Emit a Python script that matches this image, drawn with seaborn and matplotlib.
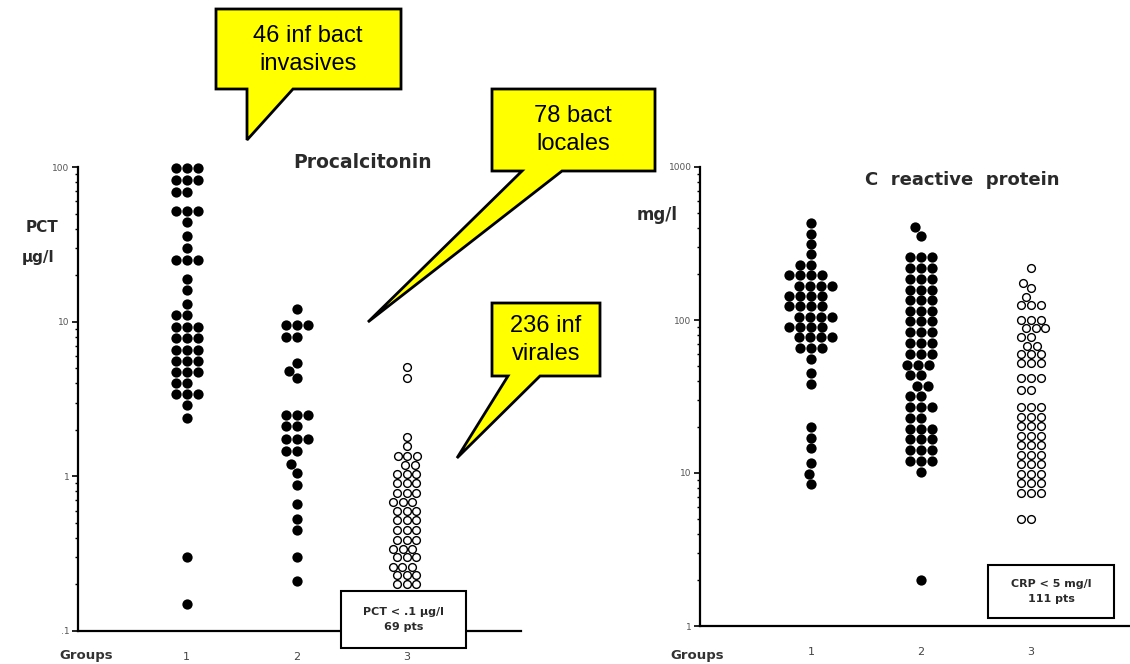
import warnings
warnings.filterwarnings('ignore')
import numpy as np
import pandas as pd
import matplotlib
matplotlib.use('Agg')
import matplotlib.pyplot as plt
from matplotlib.patches import Polygon, Rectangle
from matplotlib.ticker import FixedLocator, FixedFormatter, LogLocator, NullFormatter
import seaborn as sns

# ---------------- data ----------------
groups = ['1', '2', '3']

pct_tick_values = [0.1, 1, 10, 100]
pct_tick_labels = ['.1', '1', '10', '100']
crp_tick_values = [1, 10, 100, 1000]
crp_tick_labels = ['1', '10', '100', '1000']

pct_group1 = [98, 98, 98, 82, 82, 82, 69, 69, 52, 52, 52, 44, 36, 30, 25, 25,
              25, 19, 16, 13, 11, 11, 9.2, 9.2, 9.2, 7.8, 7.8, 7.8, 6.6, 6.6,
              6.6, 5.6, 5.6, 5.6, 4.7, 4.7, 4.7, 4.0, 4.0, 3.4, 3.4, 3.4, 2.9,
              2.4, 0.30, 0.15]
pct_group2 = [12, 9.5, 9.5, 9.5, 8.0, 8.0, 5.4, 4.8, 4.3, 2.5, 2.5, 2.5, 2.1,
              2.1, 1.75, 1.75, 1.75, 1.45, 1.45, 1.2, 1.05, 0.88, 0.66, 0.53,
              0.45, 0.30, 0.21]
pct_group3 = [5.1, 4.3, 1.8, 1.57, 1.36, 1.36, 1.36, 1.19, 1.19, 1.04, 1.04,
              1.04, 0.9, 0.9, 0.9, 0.78, 0.78, 0.78, 0.68, 0.68, 0.68, 0.6, 0.6,
              0.6, 0.52, 0.52, 0.52, 0.45, 0.45, 0.45, 0.39, 0.39, 0.39, 0.34,
              0.34, 0.34, 0.3, 0.3, 0.3, 0.26, 0.26, 0.26, 0.23, 0.23, 0.23,
              0.2, 0.2, 0.2, 0.17, 0.17, 0.17]

crp_group1 = [430, 367, 314, 269, 230, 230, 196, 196, 196, 196, 168, 168, 168,
              168, 144, 144, 144, 144, 123, 123, 123, 123, 105, 105, 105, 105,
              90, 90, 90, 90, 77, 77, 77, 77, 66, 66, 66, 56, 45, 38, 20, 17,
              14.5, 11.6, 9.9, 8.5]
crp_group2 = [405, 356, 257, 257, 257, 219, 219, 219, 186, 186, 186, 158, 158,
              158, 135, 135, 135, 115, 115, 115, 98, 98, 98, 83, 83, 83, 71, 71,
              71, 60, 60, 60, 51, 51, 51, 44, 44, 37, 37, 32, 32, 27, 27, 27, 23,
              23, 19.5, 19.5, 19.5, 16.6, 16.6, 16.6, 14.1, 14.1, 14.1, 12, 12,
              12, 10.2, 2.0]
crp_group3 = [220, 174, 163, 141, 125, 125, 125, 100, 100, 100, 88, 88, 88, 78,
              78, 68, 68, 60, 60, 60, 52, 52, 52, 42, 42, 42, 35, 35, 27, 27, 27,
              23.3, 23.3, 23.3, 20.2, 20.2, 20.2, 17.5, 17.5, 17.5, 15.2, 15.2,
              15.2, 13.2, 13.2, 13.2, 11.4, 11.4, 11.4, 9.9, 9.9, 9.9, 8.6, 8.6,
              8.6, 7.4, 7.4, 7.4, 5.0, 5.0]

callout_texts = ['46 inf bact\ninvasives', '78 bact\nlocales', '236 inf\nvirales']
pct_box_text = 'PCT < .1 µg/l\n69 pts'
crp_box_text = 'CRP < 5 mg/l\n111 pts'

# ---------------- figure ----------------
sns.set_theme(style='white')
plt.rcParams['font.family'] = ['DejaVu Sans']

W, H = 1130, 664
fig = plt.figure(figsize=(W / 100, H / 100), dpi=100)
fig.patch.set_facecolor('white')


def fx(px):
    return px / W


def fy(py):
    return 1 - py / H


ax1 = fig.add_axes([fx(78), fy(631), fx(521) - fx(78), fy(167) - fy(631)])
ax2 = fig.add_axes([fx(700), fy(626), 1 - fx(700), fy(167) - fy(626)])

TXT = '#2a2a2a'


def make_df(lists):
    g, v = [], []
    for name, vals in zip(groups, lists):
        g += [name] * len(vals)
        v += list(vals)
    return pd.DataFrame({'group': g, 'value': v})


def panel(ax, filled_lists, hollow_list, ylim, ticks, ticklabels, xlim):
    ax.set_yscale('log')
    df_f = make_df(filled_lists + [[]])
    df_h = make_df([[], [], hollow_list])
    sns.swarmplot(data=df_f, x='group', y='value', order=groups, color='black',
                  size=7.4, linewidth=0, ax=ax, clip_on=False, zorder=3)
    sns.swarmplot(data=df_h, x='group', y='value', order=groups, color='white',
                  edgecolor='black', linewidth=1.0, size=5.6, ax=ax,
                  clip_on=False, zorder=3)
    ax.set_ylim(*ylim)
    ax.set_xlim(*xlim)
    ax.set_xlabel('')
    ax.set_ylabel('')
    ax.yaxis.set_major_locator(FixedLocator(ticks))
    ax.yaxis.set_major_formatter(FixedFormatter(ticklabels))
    ax.yaxis.set_minor_locator(LogLocator(base=10, subs=np.arange(2, 10)))
    ax.yaxis.set_minor_formatter(NullFormatter())
    ax.tick_params(axis='y', which='major', length=4, width=1.2, labelsize=6.5,
                   labelcolor='#555555', pad=2, color='black', left=True)
    ax.tick_params(axis='y', which='minor', length=2, width=1.0, color='black', left=True)
    ax.tick_params(axis='x', length=0, labelsize=8, labelcolor='#444444', pad=15)
    for s in ['top', 'right']:
        ax.spines[s].set_visible(False)
    for s in ['left', 'bottom']:
        ax.spines[s].set_color('black')
        ax.spines[s].set_linewidth(1.6)
    ax.set_facecolor('none')


panel(ax1, [pct_group1, pct_group2], pct_group3, (0.1, 100),
      pct_tick_values, pct_tick_labels, (-0.99, 3.04))
panel(ax2, [crp_group1, crp_group2], crp_group3, (1, 1000),
      crp_tick_values, crp_tick_labels, (-1.01, 2.9))

# titles and axis labels
fig.text(fx(363), fy(162), 'Procalcitonin', ha='center', va='center',
         fontsize=13.5, fontweight='bold', color=TXT)
fig.text(fx(962), fy(180), 'C  reactive  protein', ha='center', va='center',
         fontsize=13, fontweight='bold', color=TXT)
fig.text(fx(42), fy(227), 'PCT', ha='center', va='center', fontsize=11,
         fontweight='bold', color=TXT)
fig.text(fx(38), fy(258), 'µg/l', ha='center', va='center', fontsize=11,
         fontweight='bold', color=TXT)
fig.text(fx(657), fy(215), 'mg/l', ha='center', va='center', fontsize=12,
         fontweight='bold', color=TXT)
fig.text(fx(86), fy(655), 'Groups', ha='center', va='center', fontsize=9.5,
         fontweight='bold', color='#333333')
fig.text(fx(697), fy(655), 'Groups', ha='center', va='center', fontsize=9.5,
         fontweight='bold', color='#333333')

# boxes with counts below detection limit
for (x0, y0, x1, y1), txt in [((341, 591, 466, 648), pct_box_text),
                              ((988, 565, 1114, 618), crp_box_text)]:
    rect = Rectangle((fx(x0), fy(y1)), fx(x1) - fx(x0), fy(y0) - fy(y1),
                     transform=fig.transFigure, facecolor='white',
                     edgecolor='black', lw=1.5, zorder=8)
    fig.add_artist(rect)
    fig.text(fx((x0 + x1) / 2), fy((y0 + y1) / 2), txt, ha='center',
             va='center', fontsize=8, fontweight='bold', color=TXT,
             linespacing=1.6, zorder=9)

# yellow callouts
callout_shapes = [
    [(216, 9), (401, 9), (401, 89), (293, 89), (247, 140), (247, 89), (216, 89)],
    [(492, 89), (655, 89), (655, 171), (562, 171), (368, 322), (522, 171), (492, 171)],
    [(492, 303), (600, 303), (600, 376), (540, 376), (457, 458), (508, 376), (492, 376)],
]
callout_centers = [(308, 50), (573, 130), (546, 340)]
for pts, txt, (cx, cy) in zip(callout_shapes, callout_texts, callout_centers):
    poly = Polygon([(fx(x), fy(y)) for x, y in pts], closed=True,
                   transform=fig.transFigure, facecolor='#FFFF00',
                   edgecolor='black', lw=2, joinstyle='miter', zorder=10)
    fig.add_artist(poly)
    fig.text(fx(cx), fy(cy), txt, ha='center', va='center', fontsize=17,
             family=['Liberation Sans', 'DejaVu Sans'], color='black',
             linespacing=1.35, zorder=11)

fig.savefig('out.png', dpi=100, facecolor='white')
